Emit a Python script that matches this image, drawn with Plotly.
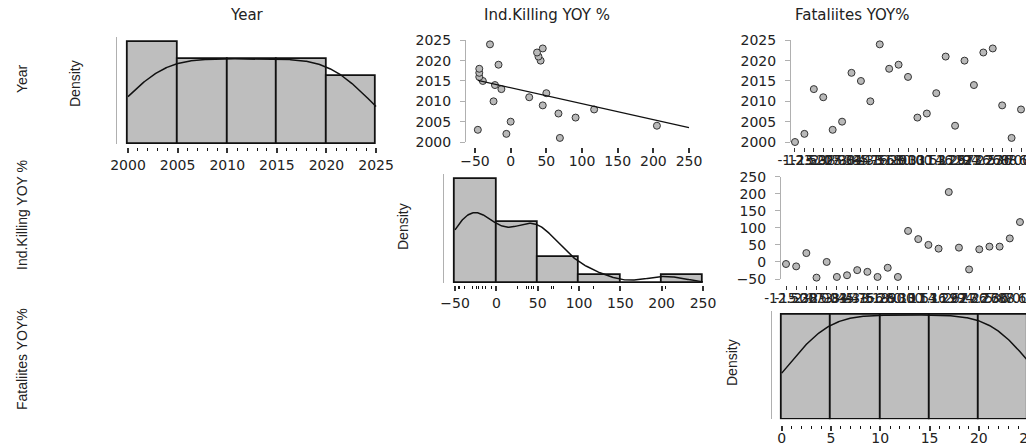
import numpy as np
import plotly.graph_objects as go

# ---------------- data ----------------
years = [2000, 2001, 2002, 2003, 2004, 2005, 2006, 2007, 2008, 2009, 2010, 2011, 2012,
         2013, 2014, 2015, 2016, 2017, 2018, 2019, 2020, 2021, 2022, 2023, 2024]
ind_killing_yoy = [None, 69, -6, -46, 205, 0, 91, 67, 117, 45, -24, 26, 50,
                   -13, -22, -39, -44, -44, -44, -17, 42, 39, 37, 45, -29]
# Fatalities YOY% is stored as text (a factor), so its axis is categorical
fatalities_yoy = ["-1.23", "60.00", "-12.50", "-20.00", "16.67", "-25.81", "0.00", "10.53", "7.69",
                  "5.88", "-4.76", "-2.17", "11.11", "-15.38", "22.22", "-33.33", "-8.33", "-3.45",
                  "-5.26", "-6.90", "2.94", "14.29", "27.27", "36.36", "-41.18"]
year_ticks = [2000, 2005, 2010, 2015, 2020, 2025]
ik_ticks = [-50, 0, 50, 100, 150, 200, 250]
fat_code_ticks = [0, 5, 10, 15, 20, 25]
var_names = ["Year", "Ind.Killing YOY %", "Fataliites YOY%"]

# ---------------- helpers ----------------
OFF = 8                      # the page body adds an 8 px margin
W, H = 1034 - OFF, 444 - OFF
def fx(p): return (p - OFF) / W
def fy(p): return 1 - (p - OFF) / H

yr = np.array(years, float)
ik = np.array([np.nan if v is None else v for v in ind_killing_yoy], float)
ok = ~np.isnan(ik)
fat_levels = sorted(set(fatalities_yoy))
fat_code = np.array([fat_levels.index(v) + 1 for v in fatalities_yoy], float)
fat_ok = [f for f, k in zip(fatalities_yoy, ok) if k]
fat_levels_ok = sorted(set(fat_ok))

def hist_density(vals, edges):
    edges = np.asarray(edges, float)
    counts = np.histogram(-vals, bins=-edges[::-1])[0][::-1]  # right-closed bins
    widths = np.diff(edges)
    return (edges[:-1] + edges[1:]) / 2, widths, counts / (len(vals) * widths)

def bw_nrd0(v):
    sd = np.std(v, ddof=1)
    q75, q25 = np.percentile(v, [75, 25])
    return 0.9 * min(sd, (q75 - q25) / 1.34) * len(v) ** -0.2

def kde(v, grid):
    h = bw_nrd0(v)
    z = (grid[:, None] - v[None, :]) / h
    return np.exp(-0.5 * z ** 2).sum(1) / (len(v) * h * np.sqrt(2 * np.pi))

BAR = "#bebebe"
EDGE = "#111111"
PT = "#b9b9b9"
AX = "#b0b0b0"
TICKFONT = dict(family="DejaVu Sans", size=14, color="#222222")
CATFONT = dict(family="DejaVu Sans", size=13.5, color="#222222")
NARROW = "Liberation Sans Narrow, Liberation Sans, Arial, sans-serif"

fig = go.Figure()

def add_hist(vals, edges, xa, ya):
    c, w, d = hist_density(vals, edges)
    fig.add_trace(go.Bar(x=c, y=d, width=w, marker=dict(color=BAR, line=dict(color=EDGE, width=1.8)),
                         xaxis=xa, yaxis=ya, showlegend=False, hoverinfo="skip"))
    g = np.linspace(edges[0], edges[-1], 300)
    fig.add_trace(go.Scatter(x=g, y=kde(vals, g), mode="lines", line=dict(color=EDGE, width=1.5),
                             xaxis=xa, yaxis=ya, showlegend=False, hoverinfo="skip", cliponaxis=False))

def add_points(x, y, xa, ya):
    fig.add_trace(go.Scatter(x=x, y=y, mode="markers",
                             marker=dict(size=7, color=PT, line=dict(color="#333333", width=1)),
                             xaxis=xa, yaxis=ya, showlegend=False, cliponaxis=False))

# Panel 1: Year histogram
add_hist(yr, year_ticks, "x", "y")
# Panel 2: Year vs Ind.Killing
add_points(ik[ok], yr[ok], "x2", "y2")
b, a = np.polyfit(ik[ok], yr[ok], 1)
lx = np.array([ik[ok].min(), ik_ticks[-1]])
fig.add_trace(go.Scatter(x=lx, y=a + b * lx, mode="lines", line=dict(color=EDGE, width=1.3),
                         xaxis="x2", yaxis="y2", showlegend=False, hoverinfo="skip", cliponaxis=False))
# Panel 3: Year vs Fatalities
add_points(fatalities_yoy, yr, "x3", "y3")
# Panel 4: Ind.Killing histogram
add_hist(ik[ok], ik_ticks, "x4", "y4")
# Panel 5: Ind.Killing vs Fatalities
add_points(fat_ok, ik[ok], "x5", "y5")
# Panel 6: Fatalities histogram (factor codes)
add_hist(fat_code, fat_code_ticks, "x6", "y6")

def xax(dom, rng, pos, tickvals=None, rug=None, cat=None, standoff=1):
    d = dict(domain=[fx(dom[0]), min(1, fx(dom[1]))], range=rng, anchor="free", position=fy(pos),
             showgrid=False, zeroline=False, showline=False, ticks="outside", ticklen=5,
             tickwidth=1.5, tickcolor="#333333", tickfont=TICKFONT, ticklabelstandoff=standoff,
             ticklabeloverflow="allow", tickangle=0, fixedrange=True, automargin=False)
    if cat is not None:
        d.update(type="category", categoryorder="array", categoryarray=cat, tickfont=CATFONT,
                 tickmode="array", tickvals=cat, ticktext=cat, ticklen=4, tickwidth=1)
    else:
        d.update(tickmode="array", tickvals=tickvals)
    if rug is not None:
        d["minor"] = dict(tickmode="array", tickvals=list(rug), ticks="outside", ticklen=3,
                          tickwidth=1.2, tickcolor=EDGE, showgrid=False)
    return d

def yax(dom, rng, pos, tickvals=None):
    d = dict(domain=[fy(dom[1]), fy(dom[0])], range=rng, anchor="free", position=fx(pos),
             showgrid=False, zeroline=False, showline=True, linecolor=AX, linewidth=1,
             fixedrange=True, automargin=False)
    if tickvals is None:
        d.update(showticklabels=False, ticks="")
    else:
        d.update(tickmode="array", tickvals=tickvals, ticks="outside", ticklen=5, tickcolor=AX,
                 tickwidth=1, tickfont=TICKFONT, ticklabelstandoff=6)
    return d

fig.update_layout(
    template="none",
    width=W, height=H, margin=dict(l=0, r=0, t=0, b=0, pad=0), autosize=False,
    paper_bgcolor="white", plot_bgcolor="white", bargap=0, barmode="overlay",
    xaxis=xax((115.7, 385), [1998.76, 2025.9], 147, year_ticks, rug=yr, standoff=0),
    yaxis=yax((37, 144.3), [0, 0.0502], 115.7),
    xaxis2=xax((465, 700), [-64.0, 265.4], 146.5, ik_ticks, standoff=-3),
    yaxis2=yax((40.3, 142), [2000, 2025], 465, year_ticks),
    xaxis3=xax((790, 1034), [-0.53, 25.38], 146.5, cat=fat_levels, standoff=-3),
    yaxis3=yax((40.3, 142), [2000, 2025], 790, year_ticks),
    xaxis4=xax((442.7, 712), [-64.9, 260.9], 285, ik_ticks, rug=ik[ok], standoff=0),
    yaxis4=yax((174, 283.3), [0, 0.01048], 442.7),
    xaxis5=xax((780, 1034), [-0.59, 24.38], 285, cat=fat_levels_ok, standoff=-3),
    yaxis5=yax((176.7, 279), [-50, 250], 780, ik_ticks),
    xaxis6=xax((770.7, 1034), [-1.117, 25.6], 424.5, fat_code_ticks, rug=fat_code, standoff=-4),
    yaxis6=yax((310.7, 419.3), [0, 0.04165], 770.7),
)

def label(text, x, y, angle=0, font=None):
    fig.add_annotation(text=text, x=fx(x), y=fy(y), xref="paper", yref="paper", showarrow=False,
                       xanchor="center", yanchor="middle", textangle=angle, font=font)

# column titles
for name, cx in zip(var_names, [247, 547, 852]):
    label(name, cx, 15, font=dict(family="DejaVu Sans", size=15, color="#222222"))
# row titles
for name, cy in zip(var_names, [79, 215, 359]):
    label(name, 22, cy, angle=-90, font=dict(family=NARROW, size=14, color="#222222"))
# density labels
for cx, cy in [(75, 84), (403, 227), (732, 363)]:
    label("Density", cx, cy, angle=-90, font=dict(family=NARROW, size=14, color="#222222"))

fig.write_html("out.html")
